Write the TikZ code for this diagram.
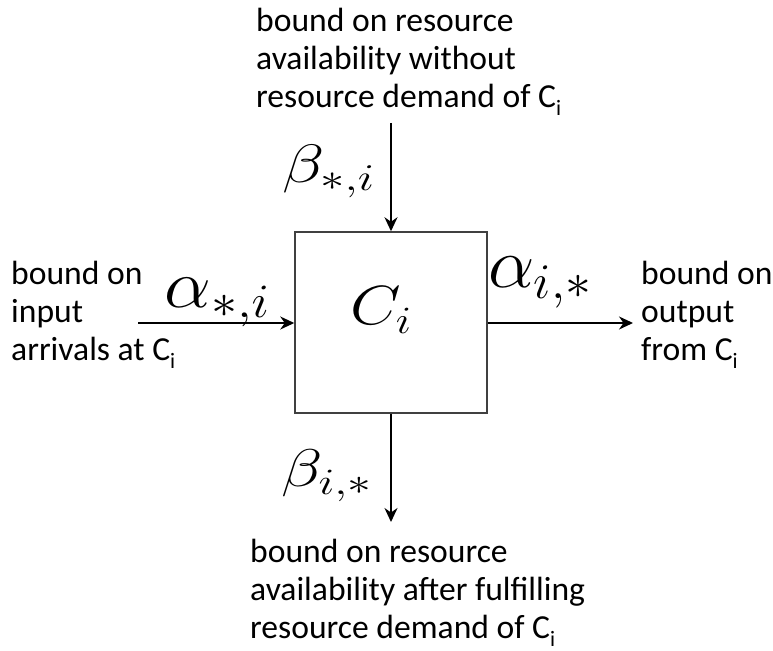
\RequirePackage{fix-cm}
\documentclass[tikz,border=0pt]{standalone}
\usepackage{graphicx}
\usepackage{fontspec}
\setmainfont{Carlito}
\usetikzlibrary{arrows.meta}
\newcommand{\subi}{\raisebox{-8pt}{\fontsize{22}{22}\selectfont i}}
\tikzset{
  lbl/.style={anchor=base west, align=left, inner sep=0pt, font=\fontsize{33.6}{38}\selectfont},
  mth/.style={inner sep=0pt, font=\fontsize{40}{40}\selectfont},
  conn/.style={line width=2pt, -{Stealth[length=14pt,width=13pt]}},
  comp/.style={draw=black!75, line width=1.5pt, minimum width=192pt, minimum height=181pt, inner sep=0pt}
}
\begin{document}
\begin{tikzpicture}[x=1pt,y=-1pt]
\useasboundingbox (0,0) rectangle (773,650);
\node[comp] (box) at (391,322.5) {};
\node[mth] (ci) at (381,310) {\resizebox*{62pt}{46pt}{$C_i$}};
\coordinate (topin) at (391,123);
\coordinate (leftin) at (138,323);
\coordinate (rightout) at (633,323);
\coordinate (botout) at (391,522);
\draw[conn] (topin) -- (box.north);
\draw[conn] (leftin) -- (leftin -| box.west);
\draw[conn] (rightout -| box.east) -- (rightout);
\draw[conn] (box.south) -- (botout);
\node[mth] (bstar) at (328.5,171.5) {\resizebox*{93pt}{53pt}{$\beta_{*,i}$}};
\node[mth] (astar) at (217.5,302.5) {\resizebox*{105pt}{49pt}{$\alpha_{*,i}$}};
\node[mth] (aout) at (540,282.5) {\resizebox*{104pt}{51pt}{$\alpha_{i,*}$}};
\node[mth] (bout) at (326.5,476) {\resizebox*{91pt}{52pt}{$\beta_{i,*}$}};
\node[lbl] (toptxt) at (256,108) {bound on resource\\availability without\\resource demand of C\subi};
\node[lbl] (lefttxt) at (11,360) {bound on\\input\\arrivals at C\subi};
\node[lbl] (righttxt) at (641,360) {bound on\\output\\from C\subi};
\node[lbl] (bottxt) at (250,638) {bound on resource\\availability after fulfilling\\resource demand of C\subi};
\end{tikzpicture}
\end{document}
